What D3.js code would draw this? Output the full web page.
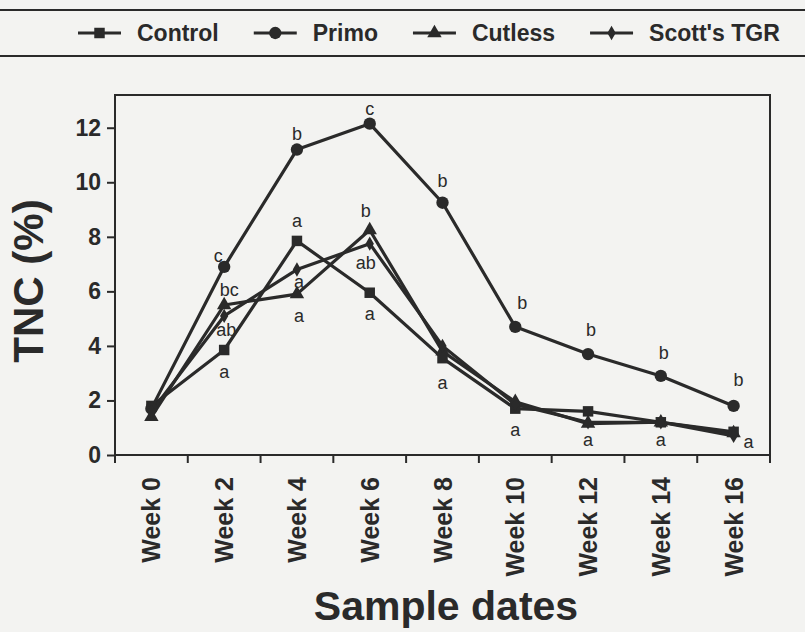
<!DOCTYPE html>
<html>
<head>
<meta charset="utf-8">
<script src="https://cdn.jsdelivr.net/npm/d3@7"></script>
<style>
  body { margin: 0; background: #f3f3f1; }
  svg { display: block; font-family: "Liberation Sans", Arial, sans-serif; }
</style>
</head>
<body>
<div id="chart"></div>
<script>
// data
var weeks = ["Week 0", "Week 2", "Week 4", "Week 6", "Week 8", "Week 10", "Week 12", "Week 14", "Week 16"];
var seriesNames = ["Control", "Primo", "Cutless", "Scott's TGR"];
var control = [1.8, 3.85, 7.85, 5.95, 3.55, 1.7, 1.6, 1.2, 0.85];
var primo = [1.7, 6.9, 11.2, 12.15, 9.25, 4.7, 3.7, 2.9, 1.8];
var cutless = [1.4, 5.5, 5.9, 8.25, 3.8, 1.95, 1.15, 1.2, 0.8];
var scotts = [1.6, 5.1, 6.8, 7.75, 4.0, 1.85, 1.2, 1.2, 0.7];
var yTicks = [0, 2, 4, 6, 8, 10, 12];

// significance letters: week index, value where the letter sits, letter
var letterWeek = [1, 3, 4, 5, 6, 7, 8, 1, 1, 3, 3, 1, 2, 2, 2, 2, 3, 4, 5, 6, 7, 8];
var letterValue = [7.3, 12.7, 10.05, 5.6, 4.6, 3.75, 2.75, 6.05, 4.6, 8.95, 7.05, 3.05, 11.8, 8.6, 6.35, 5.1, 5.2, 2.65, 0.92, 0.55, 0.55, 0.48];
var letterText = ["c", "c", "b", "b", "b", "b", "b", "bc", "ab", "b", "ab", "a", "b", "a", "a", "a", "a", "a", "a", "a", "a", "a"];
var letterDx = [-6, 0, 0, 7, 3, 3, 5, 5, 2, -4, -4, 0, 0, 0, 2, 2, 0, 0, 0, 0, 0, 15];

var ink = "#2a2a2a";
var svgWidth = 805, svgHeight = 632;
var margin = {top: 95, right: 35, bottom: 177, left: 115};
var width = svgWidth - margin.left - margin.right;
var height = svgHeight - margin.top - margin.bottom;

var svg = d3.select("#chart").append("svg")
  .attr("width", svgWidth)
  .attr("height", svgHeight);

svg.append("rect").attr("width", svgWidth).attr("height", svgHeight).attr("fill", "#f3f3f1");

var x = d3.scaleBand().domain(weeks).range([0, width]);
var y = d3.scaleLinear().domain([0, 13.2]).range([height, 0]);

var g = svg.append("g").attr("transform", `translate(${margin.left},${margin.top})`);

// frame
g.append("rect")
  .attr("width", width).attr("height", height)
  .attr("fill", "none").attr("stroke", ink).attr("stroke-width", 2);

// y axis
var yAxis = g.append("g")
  .call(d3.axisLeft(y).tickValues(yTicks).tickSize(8).tickPadding(6));
yAxis.select(".domain").attr("stroke", ink).attr("stroke-width", 2)
  .attr("d", `M0,${height + 8}V0`);
yAxis.selectAll(".tick line").attr("stroke", ink).attr("stroke-width", 2);
yAxis.selectAll(".tick text")
  .attr("fill", ink).attr("font-size", 23).attr("font-weight", "bold")
  .attr("font-family", "Liberation Sans, Arial, sans-serif");

// x axis: ticks at the band edges
var edges = weeks.map(w => x(w)).concat([width]);
var xAxis = g.append("g").attr("transform", `translate(0,${height})`);
xAxis.append("line").attr("x1", 0).attr("x2", width)
  .attr("stroke", ink).attr("stroke-width", 2);
xAxis.selectAll(".edge").data(edges).enter().append("line")
  .attr("class", "edge")
  .attr("x1", d => d).attr("x2", d => d)
  .attr("y1", 0).attr("y2", 8)
  .attr("stroke", ink).attr("stroke-width", 2);
xAxis.selectAll(".wk").data(weeks).enter().append("text")
  .attr("class", "wk")
  .attr("transform", d => `translate(${x(d) + x.bandwidth() / 2},22) rotate(-90)`)
  .attr("dy", "0.36em")
  .attr("text-anchor", "end")
  .attr("fill", ink).attr("font-size", 25).attr("font-weight", "bold")
  .text(d => d);

// axis titles
svg.append("text")
  .attr("transform", "translate(43,281) rotate(-90)")
  .attr("text-anchor", "middle")
  .attr("fill", ink).attr("font-size", 42).attr("font-weight", "bold")
  .text("TNC (%)");
svg.append("text")
  .attr("x", 446).attr("y", 620)
  .attr("text-anchor", "middle")
  .attr("fill", ink).attr("font-size", 41).attr("font-weight", "bold")
  .text("Sample dates");

// marker shapes
var symbols = [
  d3.symbol().type(d3.symbolSquare).size(110),
  d3.symbol().type(d3.symbolCircle).size(120),
  d3.symbol().type(d3.symbolTriangle).size(90),
  d3.symbol().type(d3.symbolDiamond).size(60)
];
var allSeries = [control, primo, cutless, scotts];

var line = d3.line()
  .x((d, i) => x(weeks[i]) + x.bandwidth() / 2)
  .y(d => y(d));

allSeries.forEach(function(vals) {
  g.append("path")
    .attr("d", line(vals))
    .attr("fill", "none").attr("stroke", ink)
    .attr("stroke-width", 3.2).attr("stroke-linejoin", "round");
});
allSeries.forEach(function(vals, s) {
  g.selectAll(".m" + s).data(vals).enter().append("path")
    .attr("class", "m" + s)
    .attr("transform", (d, i) => `translate(${x(weeks[i]) + x.bandwidth() / 2},${y(d)})`)
    .attr("d", symbols[s])
    .attr("fill", ink);
});

// significance letters
g.selectAll(".letter").data(letterText).enter().append("text")
  .attr("class", "letter")
  .attr("x", (d, i) => x(weeks[letterWeek[i]]) + x.bandwidth() / 2 + letterDx[i])
  .attr("y", (d, i) => y(letterValue[i]))
  .attr("dy", "0.36em")
  .attr("text-anchor", "middle")
  .attr("fill", ink).attr("font-size", 18)
  .text(d => d);

// legend band across the top
var legend = svg.append("g");
legend.append("line").attr("x1", -5).attr("x2", svgWidth + 5).attr("y1", 10).attr("y2", 10)
  .attr("stroke", ink).attr("stroke-width", 2);
legend.append("line").attr("x1", -5).attr("x2", svgWidth + 5).attr("y1", 56).attr("y2", 56)
  .attr("stroke", ink).attr("stroke-width", 2);

var lx = 78;
seriesNames.forEach(function(name, s) {
  var item = legend.append("g").attr("transform", `translate(${lx},33)`);
  item.append("line").attr("x1", 0).attr("x2", 43)
    .attr("stroke", ink).attr("stroke-width", 3);
  item.append("path").attr("transform", "translate(21.5,0)")
    .attr("d", symbols[s]).attr("fill", ink);
  var t = item.append("text")
    .attr("x", 59).attr("dy", "0.36em")
    .attr("fill", ink).attr("font-size", 23).attr("font-weight", "bold")
    .text(name);
  lx += 59 + t.node().getComputedTextLength() + 35;
});
</script>
</body>
</html>
